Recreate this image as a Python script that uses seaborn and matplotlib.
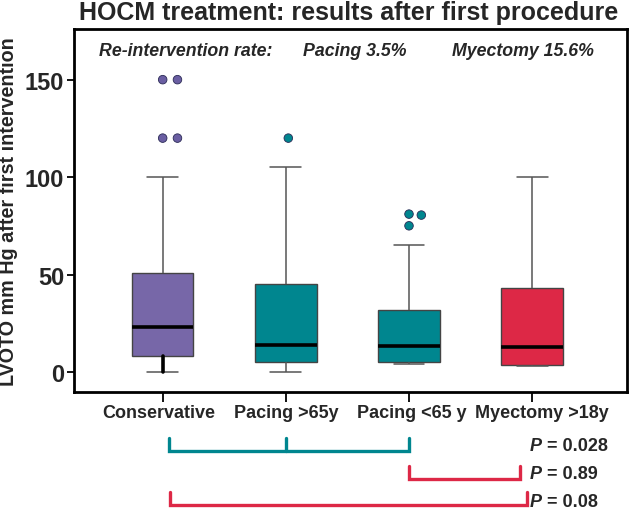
import matplotlib
matplotlib.use("Agg")
import matplotlib.pyplot as plt
import matplotlib.transforms as mtransforms
import seaborn as sns
import pandas as pd
import numpy as np

# ---- data ----
categories = ["Conservative", "Pacing >65y", "Pacing <65 y", "Myectomy >18y"]
whisker_low = [0, 0, 4, 3]
q1 = [8, 5, 5, 3.5]
median = [23, 14, 13.5, 12.8]
q3 = [50.8, 45, 32, 43]
whisker_high = [100, 105, 65, 100]

outlier_group = ["Conservative", "Conservative", "Conservative", "Conservative",
                 "Pacing >65y", "Pacing <65 y", "Pacing <65 y", "Pacing <65 y"]
outlier_value = [150, 150, 120, 120, 120, 81, 80.5, 75]
outlier_shift = [0.0, 0.12, 0.0, 0.12, 0.02, 0.0, 0.1, 0.0]

yticks = [0, 50, 100, 150]
pvalues = ["0.028", "0.89", "0.08"]

colors = ["#7767A8", "#00868F", "#00868F", "#DD2846"]
dot_colors = ["#6A5EA2", "#00868F", "#00868F", "#DD2846"]

# box data: five summary values per group (linear percentiles reproduce them)
rows = []
for i, c in enumerate(categories):
    for v in (whisker_low[i], q1[i], median[i], q3[i], whisker_high[i]):
        rows.append({"group": c, "value": v})
df = pd.DataFrame(rows)

out_df = pd.DataFrame({"group": outlier_group, "value": outlier_value, "shift": outlier_shift})
out_df["pos"] = out_df["group"].map({c: i for i, c in enumerate(categories)}) + out_df["shift"]

sns.set_style("white")
BOLD = ["Liberation Sans Narrow", "Liberation Sans", "DejaVu Sans"]
REG = ["Liberation Sans", "DejaVu Sans"]
plt.rcParams["font.family"] = REG

fig = plt.figure(figsize=(6.3, 5.1), dpi=100)
ax = fig.add_axes([74 / 630, 1 - 393 / 510, (627 - 74) / 630, (393 - 30) / 510])

sns.boxplot(data=df, x="group", y="value", order=categories, hue="group",
            palette=colors, saturation=1, legend=False, width=0.5, whis=(0, 100),
            showfliers=False, linewidth=1.0, linecolor="#444444",
            medianprops=dict(color="black", linewidth=2.6),
            whiskerprops=dict(color="#555555", linewidth=1.1),
            capprops=dict(color="#555555", linewidth=1.1), ax=ax)

sns.scatterplot(data=out_df, x="pos", y="value", hue="group",
                palette=dict(zip(categories, dot_colors)),
                legend=False, s=38, edgecolor="#2a2a55", linewidth=0.6, ax=ax, zorder=5)

ax.set_xlim(-0.72, 3.77)
ax.set_ylim(-10.3, 176)
ax.set_yticks(yticks)
ax.set_yticklabels([str(t) for t in yticks], fontsize=17, fontweight="bold", family=BOLD)
ax.set_xticks(range(len(categories)))
ax.set_xticklabels(categories, fontsize=13, fontweight="bold", family=REG)
ax.tick_params(axis="both", direction="out", length=5, width=1.3, color="black", pad=2,
               left=True, bottom=True)
ax.tick_params(axis="x", length=7)
# small horizontal nudges of x tick labels as in the reference
nudges = [-4, 0, 3, 10]
for lab, dx in zip(ax.get_xticklabels(), nudges):
    lab.set_transform(lab.get_transform() +
                      mtransforms.ScaledTranslation(dx / 100, 0, fig.dpi_scale_trans))
ax.set_xlabel("")
ax.set_ylabel("LVOTO mm Hg after first intervention", fontsize=14.2, fontweight="bold",
              family=REG, labelpad=5)
for s in ax.spines.values():
    s.set_color("black")
    s.set_linewidth(2.0)

# thick lower whisker of the Conservative group
ax.plot([0, 0], [whisker_low[0], q1[0]], color="black", linewidth=2.6, zorder=4)

# annotations inside top of axes
ann_kw = dict(transform=ax.transAxes, fontsize=12.8, fontweight="bold",
              fontstyle="italic", family=REG, va="center")
ax.text(0.045, 0.94, "Re-intervention rate:", **ann_kw)
ax.text(0.414, 0.94, "Pacing 3.5%", **ann_kw)
ax.text(0.684, 0.94, "Myectomy 15.6%", **ann_kw)

fig.text(0.553, 0.975, "HOCM treatment: results after first procedure", ha="center",
         va="center", fontsize=18, fontweight="bold", family=BOLD)

# comparison brackets below the axis
tr = mtransforms.blended_transform_factory(ax.transData, fig.transFigure)
teal = "#00868F"
red = "#DD2846"
lw = 2.4
brackets = [
    ([0.05, 2.0], [1.0], 0.139, 0.114, teal),
    ([2.0, 2.9], [], 0.084, 0.059, red),
    ([0.06, 2.96], [], 0.034, 0.008, red),
]
for (x0, x1), mids, ytop, ybot, col in brackets:
    ax.plot([x0, x0, x1, x1], [ytop, ybot, ybot, ytop], color=col, linewidth=lw,
            transform=tr, clip_on=False, solid_joinstyle="miter")
    for m in mids:
        ax.plot([m, m], [ytop, ybot], color=col, linewidth=lw, transform=tr, clip_on=False)

p_y = [0.124, 0.069, 0.014]
for pv, yy in zip(pvalues, p_y):
    t = ax.text(2.98, yy, "P", transform=tr, fontsize=13, fontweight="bold",
                fontstyle="italic", family=REG, va="center", ha="left")
    ax.annotate(" = " + pv, xy=(1, 0.5), xycoords=t, va="center", ha="left",
                fontsize=13, fontweight="bold", family=REG)

fig.savefig("out.png", dpi=100)
